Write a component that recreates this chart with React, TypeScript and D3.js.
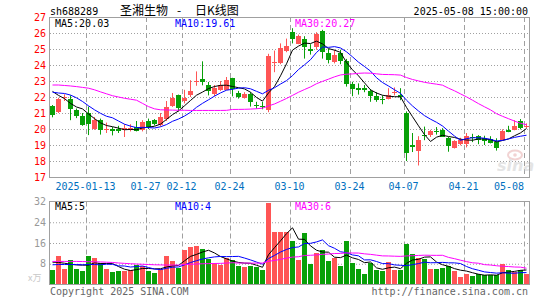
import React from 'react';
import * as d3 from 'd3';

// trading days shown (80 candles)
const dates = [
  '2025-01-03', '2025-01-06', '2025-01-07', '2025-01-08', '2025-01-09', '2025-01-10', '2025-01-13', '2025-01-14',
  '2025-01-15', '2025-01-16', '2025-01-17', '2025-01-20', '2025-01-21', '2025-01-22', '2025-01-23', '2025-01-24',
  '2025-01-27', '2025-02-05', '2025-02-06', '2025-02-07', '2025-02-10', '2025-02-11', '2025-02-12', '2025-02-13',
  '2025-02-14', '2025-02-17', '2025-02-18', '2025-02-19', '2025-02-20', '2025-02-21', '2025-02-24', '2025-02-25',
  '2025-02-26', '2025-02-27', '2025-02-28', '2025-03-03', '2025-03-04', '2025-03-05', '2025-03-06', '2025-03-07',
  '2025-03-10', '2025-03-11', '2025-03-12', '2025-03-13', '2025-03-14', '2025-03-17', '2025-03-18', '2025-03-19',
  '2025-03-20', '2025-03-21', '2025-03-24', '2025-03-25', '2025-03-26', '2025-03-27', '2025-03-28', '2025-03-31',
  '2025-04-01', '2025-04-02', '2025-04-03', '2025-04-07', '2025-04-08', '2025-04-09', '2025-04-10', '2025-04-11',
  '2025-04-14', '2025-04-15', '2025-04-16', '2025-04-17', '2025-04-18', '2025-04-21', '2025-04-22', '2025-04-23',
  '2025-04-24', '2025-04-25', '2025-04-28', '2025-04-29', '2025-04-30', '2025-05-06', '2025-05-07', '2025-05-08',
];

const open = [
  21.45, 21.08, 21.95, 21.88, 21.19, 20.81, 20.98, 20.0, 20.55, 19.93,
  19.97, 20.0, 19.95, 20.0, 20.12, 19.95, 20.5, 20.55, 20.25, 20.62,
  21.43, 22.12, 21.75, 22.12, 22.93, 23.12, 22.73, 22.17, 22.46, 22.46,
  23.2, 22.25, 21.94, 22.2, 21.5, 21.42, 21.2, 24.1, 24.15, 24.9,
  26.05, 25.33, 25.65, 24.98, 25.1, 26.1, 24.77, 24.2, 24.75, 24.27,
  22.8, 22.55, 22.55, 22.35, 22.05, 21.88, 21.88, 22.25, 22.12, 21.02,
  19.0, 18.65, 19.62, 19.62, 19.88, 19.92, 19.44, 18.83, 19.08, 19.08,
  19.5, 19.55, 19.45, 19.4, 19.2, 19.33, 19.96, 19.95, 20.48, 20.12,
];
const high = [
  21.5, 21.95, 22.17, 22.1, 21.28, 21.0, 21.4, 20.75, 20.65, 20.4,
  20.12, 20.2, 20.3, 20.3, 20.5, 20.55, 20.65, 20.62, 21.0, 21.75,
  22.25, 22.15, 22.45, 23.05, 23.6, 24.23, 22.94, 22.75, 23.0, 23.25,
  23.2, 22.38, 22.3, 22.3, 21.7, 21.69, 24.7, 24.9, 25.35, 25.65,
  26.3, 25.9, 25.8, 25.3, 26.05, 26.2, 25.0, 24.95, 24.95, 24.38,
  22.95, 22.85, 22.75, 22.5, 22.3, 22.1, 22.55, 22.6, 22.55, 21.1,
  19.75, 19.55, 20.15, 19.95, 20.12, 20.05, 19.5, 19.3, 19.45, 19.75,
  19.7, 19.62, 19.58, 19.55, 19.42, 19.98, 20.2, 20.55, 20.62, 20.35,
];
const low = [
  20.73, 21.0, 21.75, 20.55, 20.68, 20.2, 19.62, 19.95, 19.65, 19.75,
  19.6, 19.75, 19.5, 19.85, 19.85, 19.85, 20.0, 20.22, 20.15, 20.5,
  21.38, 21.1, 21.6, 22.0, 22.7, 22.73, 22.1, 22.05, 22.38, 22.42,
  22.04, 21.9, 21.9, 21.4, 21.27, 21.23, 21.05, 23.55, 24.05, 24.8,
  25.35, 25.3, 24.4, 24.65, 24.95, 24.4, 24.1, 24.1, 24.05, 22.65,
  22.05, 22.15, 22.3, 21.7, 21.7, 21.55, 21.85, 22.1, 21.8, 18.0,
  18.56, 17.72, 19.3, 19.5, 19.65, 19.5, 18.58, 18.78, 18.98, 18.85,
  19.18, 19.05, 19.0, 19.1, 18.65, 19.3, 19.8, 19.92, 19.98, 20.05,
];
const close = [
  20.87, 21.88, 22.03, 21.27, 20.83, 20.27, 20.32, 20.55, 19.95, 20.0,
  19.9, 19.87, 20.05, 20.05, 19.9, 20.45, 20.15, 20.3, 20.72, 21.38,
  21.94, 21.3, 21.92, 22.37, 23.03, 22.92, 22.38, 22.58, 22.73, 23.08,
  22.52, 22.0, 22.2, 21.69, 21.45, 21.37, 24.55, 24.2, 25.05, 25.2,
  25.65, 25.8, 25.15, 24.9, 25.95, 24.8, 24.33, 24.65, 24.22, 22.8,
  22.5, 22.45, 22.45, 22.05, 21.8, 21.8, 22.15, 22.3, 22.0, 18.5,
  18.9, 19.3, 19.55, 19.85, 19.84, 19.5, 18.92, 19.24, 19.32, 19.58,
  19.42, 19.33, 19.22, 19.15, 18.83, 19.88, 19.82, 20.2, 20.05, 20.2,
];
// volume, 万手
const volume = [
  5.5, 11.0, 5.9, 9.4, 5.9, 5.1, 11.0, 10.4, 8.1, 5.9,
  4.9, 5.3, 5.3, 5.5, 7.7, 7.1, 5.3, 4.5, 5.8, 11.0,
  9.1, 6.4, 13.3, 14.4, 14.8, 13.7, 9.8, 8.1, 7.5, 10.4,
  9.4, 7.1, 6.8, 7.2, 6.6, 5.5, 31.3, 20.4, 20.4, 20.4,
  16.8, 9.4, 20.0, 7.9, 12.0, 13.3, 9.1, 10.3, 7.1, 16.8,
  8.1, 5.9, 4.2, 8.4, 5.5, 5.3, 8.8, 5.5, 5.5, 15.7,
  11.7, 10.1, 9.8, 5.9, 5.9, 6.4, 7.1, 5.3, 2.9, 4.2,
  3.2, 4.2, 3.5, 3.5, 3.5, 7.9, 5.5, 4.9, 5.5, 4.2,
];

const ma5Head = [22.35, 22.1, 21.9, 21.6];
const ma10Head = [22.3, 22.25, 22.22, 22.12, 21.95, 21.72, 21.45, 21.2, 20.98];
const ma30Head = [
  22.75, 22.75, 22.72, 22.69, 22.65, 22.6, 22.55, 22.45, 22.32, 22.2,
  22.08, 22.0, 21.92, 21.86, 21.8, 21.6, 21.4, 21.26, 21.2, 21.19,
  21.18, 21.17, 21.17, 21.16, 21.16, 21.16, 21.16, 21.16, 21.16,
];
const vma5Head = [8.6, 8.5, 8.2, 7.8];
const vma10Head = [7.6, 7.7, 7.7, 7.7, 7.7, 7.6, 7.7, 7.7, 7.6];
const vma30Head = [
  8.9, 8.9, 8.9, 8.9, 8.9, 8.85, 8.8, 8.75, 8.7, 8.6,
  8.5, 8.3, 8.15, 8.0, 7.9, 7.8, 7.7, 7.6, 7.55, 7.5,
  7.5, 7.5, 7.7, 7.8, 7.9, 8.0, 8.05, 8.1, 8.15,
];

const tickDates = ['2025-01-13', '2025-01-27', '2025-02-12', '2025-02-24', '2025-03-10', '2025-03-24', '2025-04-07', '2025-04-21', '2025-05-08'];
const tickLabels = ['2025-01-13', '01-27', '02-12', '02-24', '03-10', '03-24', '04-07', '04-21', '05-08'];
const priceTicks = [17, 18, 19, 20, 21, 22, 23, 24, 25, 26, 27];
const volTicks = [8, 16, 24, 32];

const L = 50, R = 530;
const P_TOP = 17, P_BOT = 177;
const V_TOP = 201.5, V_BOT = 284.5;
const UP = '#ff5555', DOWN = '#08a008';
const GRID = '#a0a0a0';
const MONO = '"DejaVu Sans Mono", monospace';
const MA_COLORS = ['#000000', '#0000ff', '#ff00ff'];

function movingAvg(vals: number[], n: number, head: number[]) {
  return vals.map((_, i) => (i < n - 1 ? head[i] : (d3.mean(vals.slice(i - n + 1, i + 1)) as number)));
}

export default function App() {
  const x = d3.scaleBand().domain(dates).range([L, R]);
  const y = d3.scaleLinear().domain([17, 27]).range([P_BOT, P_TOP]);
  const yv = d3.scaleLinear().domain([0, 32]).range([V_BOT, V_TOP]);
  const cx = (i: number) => (x(dates[i]) as number) + 2.5;

  const ma = [movingAvg(close, 5, ma5Head), movingAvg(close, 10, ma10Head), movingAvg(close, 30, ma30Head)];
  const vma = [movingAvg(volume, 5, vma5Head), movingAvg(volume, 10, vma10Head), movingAvg(volume, 30, vma30Head)];
  const last = dates.length - 1;

  const priceLine = d3.line<number>().x((_, i) => cx(i)).y(d => y(d));
  const volLine = d3.line<number>().x((_, i) => cx(i)).y(d => yv(d));

  const colorOf = (i: number) => (close[i] >= open[i] ? UP : DOWN);

  return (
    <div style={{ position: 'fixed', left: 0, top: 0 }}>
      <svg width={545} height={300} style={{ display: 'block', background: '#fff', fontFamily: MONO }}>
        {/* header */}
        <text x={50} y={15} fontSize={10} fill="#000">sh688289</text>
        <text y={15} fontSize={12} fill="#000" fontFamily='"Noto Sans CJK SC", sans-serif'>
          <tspan x={120}>圣湘生物</tspan>
          <tspan x={177}>-</tspan>
          <tspan x={195}>日K线图</tspan>
        </text>
        <text x={528} y={15} fontSize={10} fill="#000" textAnchor="end">2025-05-08 15:00:00</text>

        {/* price grid */}
        {priceTicks.slice(1, -1).map(t => (
          <line key={'pg' + t} x1={L} x2={R} y1={y(t) + 0.5} y2={y(t) + 0.5} stroke={GRID} strokeDasharray="1,2" />
        ))}
        {tickDates.map(d => (
          <line key={'pv' + d} x1={(x(d) as number) + 0.5} x2={(x(d) as number) + 0.5} y1={P_TOP} y2={P_BOT}
            stroke={GRID} strokeDasharray="5,3" />
        ))}
        {priceTicks.map(t => (
          <text key={'pl' + t} x={46} y={y(t) + 4} fontSize={10} fill="#ff0000" textAnchor="end">{t}</text>
        ))}

        {/* watermark */}
        <g opacity={0.55}>
          <ellipse cx={515} cy={155} rx={7} ry={4.5} fill="none" stroke="#e8b0b0" strokeWidth={2} />
          <circle cx={515} cy={155} r={1.8} fill="#e8b0b0" />
          <text x={497} y={171} fontSize={16} fontWeight="bold" fontStyle="italic" fill="#cfcfcf"
            fontFamily="'DejaVu Sans', sans-serif">sina</text>
        </g>

        {/* candles */}
        {dates.map((d, i) => {
          const x0 = x(d) as number;
          const top = y(Math.max(open[i], close[i]));
          const bot = y(Math.min(open[i], close[i]));
          return (
            <g key={'c' + d}>
              <line x1={x0 + 2.5} x2={x0 + 2.5} y1={y(high[i])} y2={y(low[i])} stroke={colorOf(i)} />
              <rect x={x0} y={top} width={5} height={Math.max(1, bot - top)} fill={colorOf(i)} shapeRendering="crispEdges" />
            </g>
          );
        })}

        {ma.map((m, k) => (
          <path key={'ma' + k} d={priceLine(m) as string} fill="none" stroke={MA_COLORS[k]} strokeWidth={1} />
        ))}

        <rect x={L - 0.5} y={P_TOP + 0.5} width={R - L} height={P_BOT - P_TOP} fill="none" stroke={GRID} />

        <text x={55} y={27} fontSize={10} fill={MA_COLORS[0]}>MA5:{ma[0][last].toFixed(2)}</text>
        <text x={175} y={27} fontSize={10} fill={MA_COLORS[1]}>MA10:{ma[1][last].toFixed(2)}</text>
        <text x={295} y={27} fontSize={10} fill={MA_COLORS[2]}>MA30:{ma[2][last].toFixed(2)}</text>

        {/* date labels */}
        {tickDates.map((d, k) => {
          const isLast = k === tickDates.length - 1;
          return (
            <text key={'dl' + d} x={isLast ? R - 6 : (x(d) as number) - 0.5} y={190} fontSize={10} fill="#0070c0"
              textAnchor={isLast ? 'end' : 'middle'}>{tickLabels[k]}</text>
          );
        })}

        {/* volume panel */}
        {volTicks.slice(0, -1).map(t => (
          <line key={'vg' + t} x1={L} x2={R} y1={yv(t) + 0.5} y2={yv(t) + 0.5} stroke={GRID} strokeDasharray="1,2" />
        ))}
        {tickDates.map(d => (
          <line key={'vv' + d} x1={(x(d) as number) + 0.5} x2={(x(d) as number) + 0.5} y1={V_TOP} y2={V_BOT}
            stroke={GRID} strokeDasharray="5,3" />
        ))}
        {volTicks.map(t => (
          <text key={'vl' + t} x={46} y={yv(t) + 3.5} fontSize={10} fill="#999" textAnchor="end">{t}</text>
        ))}
        <text x={28} y={281} fontSize={9} fill="#c8c8c8" fontFamily='"Noto Sans CJK SC", sans-serif'>x万</text>

        {dates.map((d, i) => (
          <rect key={'v' + d} x={x(d) as number} y={yv(volume[i])} width={5} height={V_BOT - yv(volume[i])}
            fill={colorOf(i)} shapeRendering="crispEdges" />
        ))}

        {vma.map((m, k) => (
          <path key={'vma' + k} d={volLine(m) as string} fill="none" stroke={MA_COLORS[k]} strokeWidth={1} />
        ))}

        <rect x={L - 0.5} y={V_TOP} width={R - L} height={V_BOT - V_TOP} fill="none" stroke={GRID} />

        <text x={55} y={210} fontSize={10} fill={MA_COLORS[0]}>MA5:{Math.floor(vma[0][last])}</text>
        <text x={175} y={210} fontSize={10} fill={MA_COLORS[1]}>MA10:{Math.floor(vma[1][last])}</text>
        <text x={295} y={210} fontSize={10} fill={MA_COLORS[2]}>MA30:{Math.floor(vma[2][last])}</text>

        {/* footer */}
        <text x={50} y={295} fontSize={10} fill="#666">Copyright 2025 SINA.COM</text>
        <text x={528} y={295} fontSize={10} fill="#666" textAnchor="end">http://finance.sina.com.cn</text>
      </svg>
    </div>
  );
}
